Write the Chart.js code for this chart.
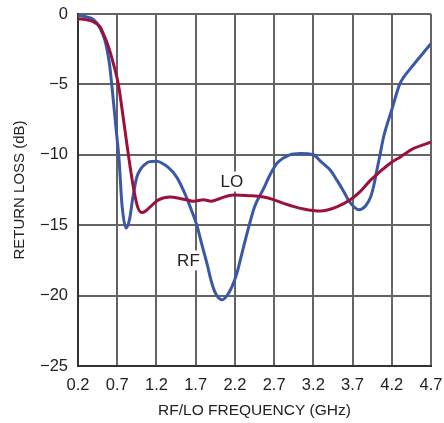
<!DOCTYPE html>
<html>
<head>
<meta charset="utf-8">
<script src="https://cdn.jsdelivr.net/npm/chart.js@4.4.0/dist/chart.umd.min.js"></script>
<style>
  html, body { margin: 0; padding: 0; background: #fff; }
  #wrap { width: 444px; height: 423px; }
</style>
</head>
<body>
<div id="wrap"><canvas id="c" width="444" height="423"></canvas></div>
<script>
// ---- Data ----
const rfFreq = [0.2, 0.3, 0.4, 0.47, 0.545, 0.6, 0.63, 0.69, 0.723, 0.76, 0.813, 0.86, 0.9, 0.949, 1.0, 1.05, 1.1, 1.2, 1.35, 1.46, 1.55, 1.63, 1.715, 1.78, 1.843, 1.9, 1.95, 2.034, 2.1, 2.16, 2.226, 2.29, 2.354, 2.45, 2.566, 2.65, 2.737, 2.9, 3.034, 3.2, 3.3, 3.417, 3.5, 3.587, 3.67, 3.78, 3.87, 3.93, 3.97, 4.01, 4.05, 4.097, 4.2, 4.3, 4.35, 4.44, 4.566, 4.7];
const rfLoss = [-0.1, -0.2, -0.4, -0.9, -1.9, -3.5, -5.0, -8.4, -10.3, -13.5, -15.2, -14.5, -13.0, -11.6, -11.0, -10.7, -10.5, -10.45, -10.9, -11.6, -12.6, -13.7, -15.0, -16.4, -17.7, -19.0, -19.8, -20.3, -20.0, -19.4, -18.4, -17.0, -15.6, -13.7, -12.4, -11.4, -10.6, -10.0, -9.9, -10.0, -10.5, -11.1, -11.8, -12.6, -13.4, -13.9, -13.6, -13.0, -12.2, -11.1, -10.0, -8.7, -6.8, -5.0, -4.5, -3.86, -3.0, -2.1];

const loFreq = [0.2, 0.3, 0.395, 0.48, 0.523, 0.587, 0.65, 0.715, 0.79, 0.842, 0.906, 0.96, 1.013, 1.06, 1.12, 1.225, 1.375, 1.5, 1.588, 1.672, 1.8, 1.9, 2.01, 2.18, 2.39, 2.566, 2.7, 2.82, 3.076, 3.29, 3.5, 3.67, 3.8, 3.93, 4.05, 4.18, 4.31, 4.48, 4.7];
const loLoss = [-0.35, -0.4, -0.55, -0.9, -1.4, -2.3, -3.5, -5.0, -7.9, -10.0, -12.3, -13.7, -14.1, -14.0, -13.7, -13.2, -13.0, -13.1, -13.2, -13.3, -13.2, -13.3, -13.1, -12.85, -12.9, -13.0, -13.2, -13.45, -13.85, -14.0, -13.7, -13.2, -12.6, -11.8, -11.2, -10.6, -10.15, -9.55, -9.1];

const xTicks = [0.2, 0.7, 1.2, 1.7, 2.2, 2.7, 3.2, 3.7, 4.2, 4.7];
const yTicks = [-25, -20, -15, -10, -5, 0];
const xTitle = 'RF/LO FREQUENCY (GHz)';
const yTitle = 'RETURN LOSS (dB)';
const curveLabels = [
  { text: 'LO', x: 2.162, y: -11.9 },
  { text: 'RF', x: 1.608, y: -17.5 }
];

const FONT = '"Liberation Sans", Arial, sans-serif';
const toPts = (xs, ys) => xs.map((x, i) => ({ x: x, y: ys[i] }));

const labelPlugin = {
  id: 'curveLabels',
  beforeDatasetsDraw(chart) {
    const { ctx, scales: { x, y } } = chart;
    ctx.save();
    ctx.font = '17px ' + FONT;
    ctx.textAlign = 'center';
    ctx.textBaseline = 'middle';
    curveLabels.forEach(l => {
      const px = x.getPixelForValue(l.x);
      const py = y.getPixelForValue(l.y);
      const w = ctx.measureText(l.text).width;
      ctx.fillStyle = '#fff';
      ctx.fillRect(px - w / 2 - 3, py - 10, w + 6, 20);
      ctx.fillStyle = '#222';
      ctx.fillText(l.text, px, py + 1);
    });
    ctx.restore();
  }
};

new Chart(document.getElementById('c'), {
  type: 'line',
  data: {
    datasets: [
      {
        label: 'LO',
        data: toPts(loFreq, loLoss),
        borderColor: '#9c1139',
        borderWidth: 3,
        pointRadius: 0,
        cubicInterpolationMode: 'monotone',
        fill: false
      },
      {
        label: 'RF',
        data: toPts(rfFreq, rfLoss),
        borderColor: '#3a58a8',
        borderWidth: 3,
        pointRadius: 0,
        cubicInterpolationMode: 'monotone',
        fill: false
      }
    ]
  },
  options: {
    responsive: false,
    animation: false,
    events: [],
    layout: { padding: { left: 0, right: 13, top: 14, bottom: 0 } },
    plugins: { legend: { display: false }, tooltip: { enabled: false } },
    scales: {
      x: {
        type: 'linear',
        min: 0.2,
        max: 4.7,
        afterBuildTicks: s => { s.ticks = xTicks.map(v => ({ value: v })); },
        afterFit: s => { s.height = 57; s.paddingLeft = 0; s.paddingRight = 0; },
        ticks: {
          autoSkip: false,
          maxRotation: 0,
          padding: 10,
          color: '#222',
          font: { family: FONT, size: 16.5 },
          callback: v => v.toFixed(1)
        },
        grid: { color: '#646464', lineWidth: 2, drawTicks: false },
        border: { color: '#333', width: 2 },
        title: {
          display: true,
          text: xTitle,
          color: '#222',
          font: { family: FONT, size: 15.5 },
          padding: { top: 0, bottom: 3 }
        }
      },
      y: {
        type: 'linear',
        min: -25,
        max: 0,
        afterBuildTicks: s => { s.ticks = yTicks.map(v => ({ value: v })); },
        afterFit: s => { s.width = 78; s.paddingTop = 0; s.paddingBottom = 0; },
        ticks: {
          padding: 10,
          color: '#222',
          font: { family: FONT, size: 16.5 },
          callback: v => (v < 0 ? '\u2212' + Math.abs(v) : String(v))
        },
        grid: { color: '#646464', lineWidth: 2, drawTicks: false },
        border: { color: '#333', width: 2 },
        title: {
          display: true,
          text: yTitle,
          color: '#222',
          font: { family: FONT, size: 15 },
          padding: { top: 11, bottom: 0 }
        }
      }
    }
  },
  plugins: [labelPlugin]
});
</script>
</body>
</html>
